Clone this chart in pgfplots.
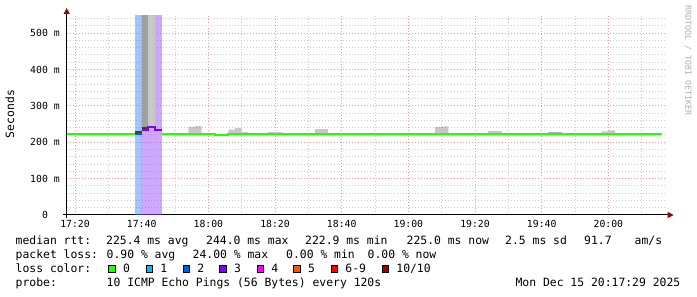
\documentclass[border=0pt]{standalone}
\usepackage{fontspec}
\setmainfont{DejaVu Sans Mono}
\usepackage{pgfplots}
\pgfplotsset{compat=1.18}
\usetikzlibrary{arrows.meta}
\definecolor{mgridc}{RGB}{228,160,160}
\definecolor{gridc}{RGB}{205,205,205}
\definecolor{lc0}{HTML}{26FF00}
\definecolor{lc1}{HTML}{00B8FF}
\definecolor{lc2}{HTML}{0059FF}
\definecolor{lc3}{HTML}{7E00FF}
\definecolor{lc4}{HTML}{FF00FF}
\definecolor{lc5}{HTML}{FF5500}
\definecolor{lc6}{HTML}{FF0000}
\definecolor{lc10}{HTML}{A10000}
\definecolor{bandblue}{RGB}{73,137,255}
\definecolor{bandpurple}{RGB}{157,81,255}
\definecolor{smokelight}{RGB}{145,145,145}
\definecolor{smokemid}{RGB}{105,105,105}
\definecolor{smokecolA}{RGB}{160,160,160}
\definecolor{smokecolB}{RGB}{200,200,200}
\definecolor{smokeblack}{RGB}{60,60,60}
\definecolor{arrowred}{RGB}{128,16,16}
\definecolor{wmark}{RGB}{175,175,175}
\begin{document}
\begin{tikzpicture}[x=1pt,y=1pt]
\useasboundingbox (0,0) rectangle (697,297);
\begin{axis}[
  at={(66.7pt,82pt)}, anchor=south west,
  scale only axis, width=600pt, height=200pt,
  xmin=17.5, xmax=197.5, ymin=0, ymax=550,
  axis x line=bottom, axis y line=left,
  x axis line style={line width=1pt, -{Triangle[length=6pt,width=6pt,color=arrowred]}, shorten >=-7pt, shorten <=-4pt},
  y axis line style={line width=1pt, -{Triangle[length=6pt,width=6pt,color=arrowred]}, shorten >=-7pt, shorten <=-3pt},
  xtick={20,40,60,80,100,120,140,160,180},
  xticklabels={17:20,17:40,18:00,18:20,18:40,19:00,19:20,19:40,20:00},
  minor xtick={30,50,70,90,110,130,150,170,190},
  ytick={0,100,200,300,400,500},
  yticklabels={0,100 m,200 m,300 m,400 m,500 m},
  minor ytick={20,40,60,80,120,140,160,180,220,240,260,280,320,340,360,380,420,440,460,480,520,540},
  major tick length=0pt, minor tick length=0pt,
  grid=both,
  major grid style={mgridc, line width=1pt, dash pattern=on 1pt off 2pt},
  minor grid style={gridc, line width=1pt, dash pattern=on 1pt off 2pt},
  ticklabel style={font=\fontsize{9.8}{11}\selectfont},
  xticklabel style={anchor=base, yshift=-12.3pt},
  yticklabel style={anchor=center, xshift=-21.7pt},
  /pgf/number format/assume math mode=true,
  clip=true,
]
% loss background bands (half transparent so the grid shows through)
\addplot[draw=none, fill=bandblue, fill opacity=0.5] coordinates {(38,0)(40,0)(40,550)(38,550)} --cycle;
\addplot[draw=none, fill=bandpurple, fill opacity=0.5] coordinates {(40,0)(46,0)(46,550)(40,550)} --cycle;
% smoke
\addplot[draw=none, fill=smokecolA] coordinates {(40,243)(42,243)(42,550)(40,550)} --cycle;
\addplot[draw=none, fill=smokecolB] coordinates {(42,245)(44,245)(44,550)(42,550)} --cycle;
\addplot[draw=none, fill=smokeblack] coordinates {(38,224)(40,224)(40,231)(38,231)} --cycle;
\addplot[draw=none, fill=smokeblack] coordinates {(40,236)(42,236)(42,243)(40,243)} --cycle;
\addplot[draw=none, fill=smokelight, fill opacity=0.5] coordinates {(54,222)(58,222)(58,244.5)(56,244.5)(56,242)(54,242)} --cycle;
\addplot[draw=none, fill=smokelight, fill opacity=0.5] coordinates {(66,222)(72,222)(72,228)(70,228)(70,239)(68,239)(68,235)(66,235)} --cycle;
\addplot[draw=none, fill=smokelight, fill opacity=0.5] coordinates {(78,222)(82,222)(82,228)(78,228)} --cycle;
\addplot[draw=none, fill=smokelight, fill opacity=0.5] coordinates {(92,222)(96,222)(96,237)(92,237)} --cycle;
\addplot[draw=none, fill=smokelight, fill opacity=0.5] coordinates {(128,222)(132,222)(132,244)(130,244)(130,242)(128,242)} --cycle;
\addplot[draw=none, fill=smokelight, fill opacity=0.5] coordinates {(144,222)(148,222)(148,230)(144,230)} --cycle;
\addplot[draw=none, fill=smokemid, fill opacity=0.5] coordinates {(162,222)(166,222)(166,228)(162,228)} --cycle;
\addplot[draw=none, fill=smokelight, fill opacity=0.5] coordinates {(178,222)(182,222)(182,233)(180,233)(180,230)(178,230)} --cycle;
% median rtt, coloured by loss
\addplot[const plot, lc0, line width=2pt] coordinates {(17.5,222.5)(38,222.5)};
\addplot[const plot, lc2, line width=2pt] coordinates {(38,222)(40,222)};
\addplot[const plot, lc3, line width=2pt] coordinates {(40,233)(42,243)(44,235)(46,235)};
\addplot[const plot, lc0, line width=2pt] coordinates {(46,222.5)(62,220)(66,222.5)(196,222.5)};
\end{axis}
% y label
\node[rotate=90, font=\fontsize{11.4}{13}\selectfont] at (10,183) {Seconds};
% watermark
\node[rotate=-90, anchor=west, inner sep=0pt, text=wmark, font=\fontsize{8.3}{9}\selectfont] at (688,292) {RRDTOOL / TOBI OETIKER};
% legend text
\begin{scope}[every node/.style={anchor=base west, inner sep=0pt, font=\fontsize{11.4}{13}\selectfont}]
\node at (15.5,52) {median rtt:};
\node at (106,52) {225.4 ms avg};
\node at (206,52) {244.0 ms max};
\node at (305,52) {222.9 ms min};
\node at (406.5,52) {225.0 ms now};
\node at (505,52) {2.5 ms sd};
\node at (584,52) {91.7};
\node at (634.5,52) {am/s};
\node at (15.5,38.5) {packet loss:};
\node at (106.5,38.5) {0.90 \% avg};
\node at (192.5,38.5) {24.00 \% max};
\node at (286,38.5) {0.00 \% min};
\node at (367.5,38.5) {0.00 \% now};
\node at (15.5,24.5) {loss color:};
\node at (122.8,24.5) {0};
\node at (160.2,24.5) {1};
\node at (197.2,24.5) {2};
\node at (233.8,24.5) {3};
\node at (271.2,24.5) {4};
\node at (307.8,24.5) {5};
\node at (345.2,24.5) {6-9};
\node at (396.2,24.5) {10/10};
\node at (15.5,10.5) {probe:};
\node at (106.5,10.5) {10 ICMP Echo Pings (56 Bytes) every 120s};
\node[anchor=base east] at (680.5,10.5) {Mon Dec 15 20:17:29 2025};
\end{scope}
% loss colour swatches
\foreach \xx/\cc in {108.3/lc0,145.7/lc1,182.7/lc2,219.3/lc3,256.7/lc4,293.3/lc5,330.7/lc6,381.7/lc10}{
  \filldraw[fill=\cc, draw=black, line width=1pt] (\xx+0.5,24.5) rectangle (\xx+7.2,31.5);
}
\end{tikzpicture}
\end{document}
